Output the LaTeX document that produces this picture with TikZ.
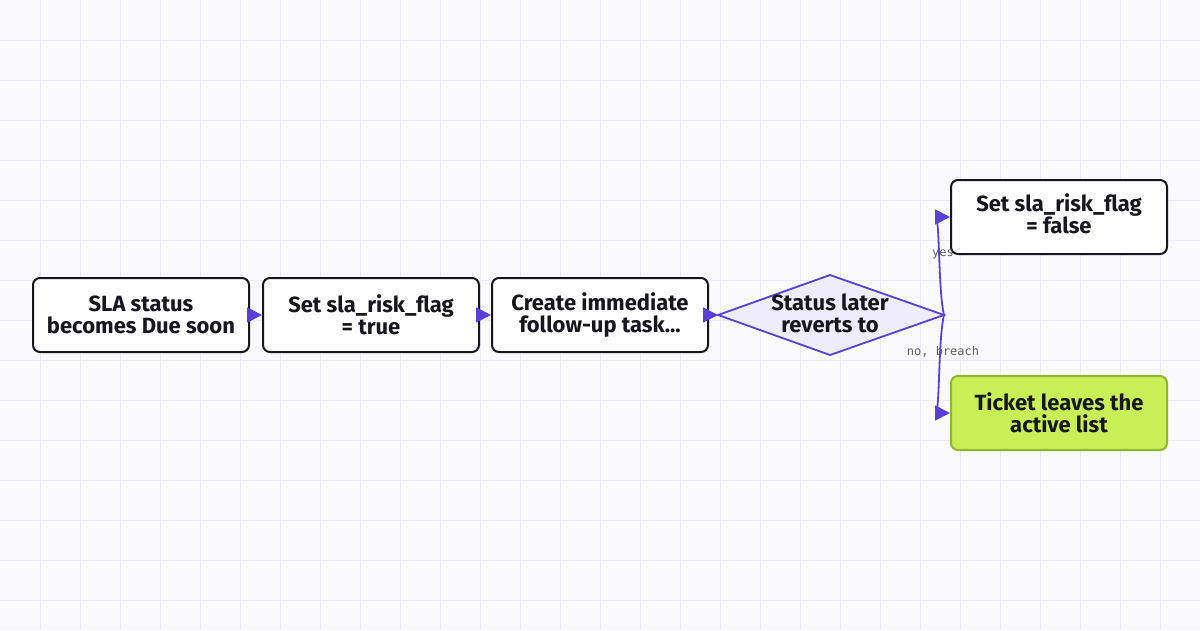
\documentclass[tikz,border=0pt]{standalone}
\usepackage{fontspec}
\setmainfont{Fira Sans}
\setmonofont{DejaVu Sans Mono}
\usetikzlibrary{arrows.meta}
\definecolor{bg}{HTML}{FAFAFD}
\definecolor{gridc}{HTML}{ECEBF6}
\definecolor{edge}{HTML}{5B3FD9}
\definecolor{dfill}{HTML}{EFECFC}
\definecolor{gfill}{HTML}{C8F056}
\definecolor{gline}{HTML}{8FB52A}
\definecolor{ink}{HTML}{16161C}
\begin{document}
\begin{tikzpicture}[x=1pt,y=-1pt,
  tf/.style={font=\fontsize{22}{22}\selectfont\bfseries,text=ink},
  box/.style={tf,draw=ink,line width=2pt,rounded corners=7pt,fill=white,minimum width=216pt,minimum height=74pt,inner sep=0pt,align=center},
  dia/.style={draw=edge,line width=1.8pt,fill=dfill},
  conn/.style={draw=edge,line width=1.8pt,-{Triangle[length=15pt,width=15pt]}},
  lab/.style={font=\ttfamily\fontsize{12}{12}\selectfont,text=gray!75!black,inner sep=1pt}]
\fill[bg] (0,0) rectangle (1200,630);
\useasboundingbox (0,0) rectangle (1200,630);
\foreach \x in {40,80,...,1160} \draw[gridc,line width=0.8pt] (\x,0) -- (\x,630);
\foreach \y in {40,80,...,600} \draw[gridc,line width=0.8pt] (0,\y) -- (1200,\y);
\node[box] (a) at (141,315) {SLA status\\becomes Due soon};
\node[box] (b) at (371,315) {Set sla\_risk\_flag\\= true};
\node[box] (c) at (600,315) {Create immediate\\follow-up task...};
\coordinate (dl) at (718,315); \coordinate (dr) at (944,315);
\draw[dia] (dl) -- (830,275) -- (dr) -- (830,355) -- cycle;
\node[tf,align=center] (d) at (830,313) {Status later\\reverts to};
\node[box] (y) at (1059,217) {\raisebox{8pt}{\begin{tabular}{@{}c@{}}Set sla\_risk\_flag\\[-1pt]= false\end{tabular}}};
\node[box,draw=gline,fill=gfill] (n) at (1059,413) {Ticket leaves the\\active list};
\draw[conn] (a.east) -- (b.west);
\draw[conn] (b.east) -- (c.west);
\draw[conn] (c.east) -- (dl);
\draw[conn] (dr) .. controls (938,290) and (940,217) .. (y.west);
\draw[conn] (dr) .. controls (938,340) and (940,413) .. (n.west);
\node[lab] (ly) at (943,254) {yes};
\node[lab] (ln) at (943,352) {no, breach};
\end{tikzpicture}
\end{document}
